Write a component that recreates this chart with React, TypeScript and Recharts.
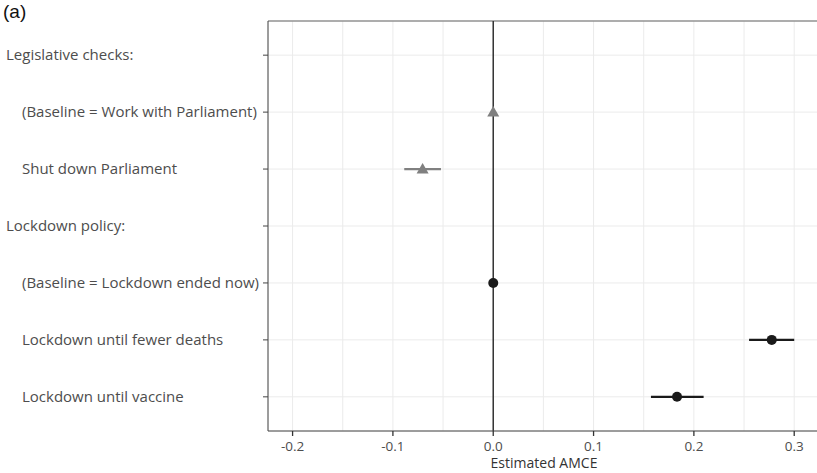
import { ComposedChart, Scatter, XAxis, YAxis, CartesianGrid, ReferenceLine, ErrorBar } from "recharts"

// category rows, top to bottom
const categories = [
  "Legislative checks:",
  "(Baseline = Work with Parliament)",
  "Shut down Parliament",
  "Lockdown policy:",
  "(Baseline = Lockdown ended now)",
  "Lockdown until fewer deaths",
  "Lockdown until vaccine",
]
const headers = ["Legislative checks:", "Lockdown policy:"]

// legislative checks attribute (grey triangles)
const legisLabels = ["(Baseline = Work with Parliament)", "Shut down Parliament"]
const legisEst = [0, -0.0704]
const legisLow = [0, -0.0887]
const legisHigh = [0, -0.0521]

// lockdown policy attribute (black circles)
const lockLabels = ["(Baseline = Lockdown ended now)", "Lockdown until fewer deaths", "Lockdown until vaccine"]
const lockEst = [0, 0.2776, 0.1832]
const lockLow = [0, 0.255, 0.1572]
const lockHigh = [0, 0.3, 0.2097]

const majorTicks = [-0.2, -0.1, 0, 0.1, 0.2, 0.3]
const xTicks = [-0.2, -0.15, -0.1, -0.05, 0, 0.05, 0.1, 0.15, 0.2, 0.25, 0.3]

const toPoints = (labels: string[], est: number[], lo: number[], hi: number[]) =>
  labels.map((l, i) => ({
    x: est[i],
    y: categories.indexOf(l) + 1,
    err: [est[i] - lo[i], hi[i] - est[i]],
  }))

const legisData = toPoints(legisLabels, legisEst, legisLow, legisHigh)
const lockData = toPoints(lockLabels, lockEst, lockLow, lockHigh)

const FONT = "'Open Sans', sans-serif"

const YTick = (props: any) => {
  const label = categories[Math.round(props.payload.value) - 1] ?? ""
  const isHeader = headers.includes(label)
  return (
    <text x={isHeader ? 6 : 22} y={props.y} dy="0.35em" fontSize={15} fill="#4d4d4d" fontFamily={FONT}>
      {label}
    </text>
  )
}

const XTick = (props: any) => {
  const v = props.payload.value
  const isMajor = majorTicks.some((m) => Math.abs(m - v) < 1e-9)
  if (!isMajor) return null
  return (
    <g>
      <line x1={props.x} x2={props.x} y1={431} y2={436} stroke="#333" strokeWidth={1.3} />
      <text x={props.x} y={451} textAnchor="middle" fontSize={13.5} fill="#4d4d4d" fontFamily={FONT}>
        {v.toFixed(1)}
      </text>
    </g>
  )
}

const Triangle = (props: any) => {
  const { cx, cy } = props
  return <polygon points={`${cx},${cy - 6} ${cx - 6},${cy + 4.5} ${cx + 6},${cy + 4.5}`} fill="#808080" />
}

const Dot = (props: any) => <circle cx={props.cx} cy={props.cy} r={5} fill="#1a1a1a" />

export default function App() {
  return (
    <div style={{ position: "fixed", left: 0, top: 0, width: 817, height: 473, overflow: "hidden", background: "#fff" }}>
      <div style={{ position: "absolute", left: 3, top: 1, fontFamily: "'Liberation Sans', Arial, sans-serif", fontSize: 19, color: "#111" }}>
        (a)
      </div>
      <ComposedChart width={830} height={473} margin={{ top: 21, right: 10, bottom: 0, left: 0 }}>
        <CartesianGrid stroke="#ebebeb" strokeWidth={1} />
        <XAxis
          type="number"
          dataKey="x"
          domain={[-0.2245, 0.3257]}
          allowDataOverflow
          ticks={xTicks}
          tickLine={false}
          tick={<XTick />}
          height={42}
          stroke="#444"
          interval={0}
          label={{ value: "Estimated AMCE", position: "insideBottom", offset: 5, fontSize: 14, fill: "#333", fontFamily: FONT }}
        />
        <YAxis
          type="number"
          dataKey="y"
          domain={[0.4, 7.6]}
          reversed
          allowDataOverflow
          ticks={[1, 2, 3, 4, 5, 6, 7]}
          interval={0}
          width={268}
          tickSize={5}
          tick={<YTick />}
          stroke="#444"
        />
        <ReferenceLine y={0.4} stroke="#666" strokeWidth={1.2} />
        <ReferenceLine x={0} stroke="#333" strokeWidth={1.5} />
        <Scatter data={legisData} shape={<Triangle />} isAnimationActive={false}>
          <ErrorBar dataKey="err" direction="x" width={0} stroke="#808080" strokeWidth={2.2} />
        </Scatter>
        <Scatter data={lockData} shape={<Dot />} isAnimationActive={false}>
          <ErrorBar dataKey="err" direction="x" width={0} stroke="#1a1a1a" strokeWidth={2.2} />
        </Scatter>
      </ComposedChart>
    </div>
  )
}
